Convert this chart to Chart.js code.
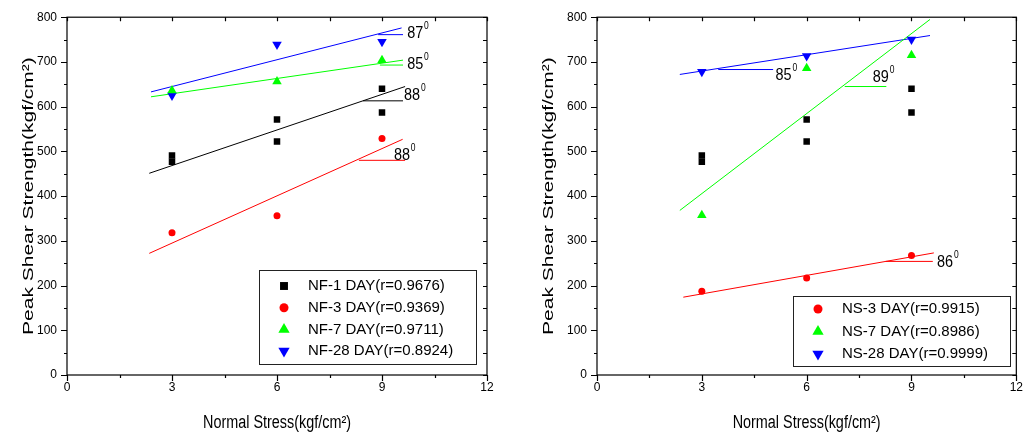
<!DOCTYPE html>
<html>
<head>
<meta charset="utf-8">
<script src="https://cdn.jsdelivr.net/npm/chart.js@4.4.1/dist/chart.umd.min.js"></script>
<style>
  html, body { margin: 0; padding: 0; background: #fff; }
  #wrap { position: relative; width: 1028px; height: 437px; }
  .panel { position: absolute; top: 0; width: 514px; height: 437px; }
</style>
</head>
<body>
<div id="wrap">
  <div class="panel" style="left:0"><canvas id="leftChart"></canvas></div>
  <div class="panel" style="left:514px"><canvas id="rightChart"></canvas></div>
</div>
<script>
// Normal stress levels (kgf/cm2)
const stress = [3, 6, 9];
const stressPairs = [3, 3, 6, 6, 9, 9];

// Peak shear strength (kgf/cm2)
const day1Peak = [491, 477, 571, 522, 640, 587];
const nf3Peak = [318, 356, 529];
const nf7Peak = [636, 656, 704];
const nf28Peak = [625, 739, 745];
const ns3Peak = [187, 217, 267];
const ns7Peak = [357, 686, 715];
const ns28Peak = [678, 713, 750];

// Fitted lines, end points [stress, strength]
const nf1Fit = [[2.35, 451], [9.66, 645]];
const nf3Fit = [[2.35, 272], [9.59, 527]];
const nf7Fit = [[2.4, 622], [9.6, 704]];
const nf28Fit = [[2.4, 633], [9.56, 776]];
const ns3Fit = [[2.47, 174], [9.64, 273]];
const ns7Fit = [[2.37, 368], [9.53, 795]];
const ns28Fit = [[2.37, 672], [9.53, 759]];

// Friction angle marks: [x from, x to, y level, label x, label y, text]
const nfAngles = [
  [8.89, 9.6, 761, 9.72, 753, '87', 'blue'],
  [8.94, 9.6, 693, 9.72, 685, '85', 'green'],
  [8.46, 9.6, 613, 9.63, 614, '88', 'black'],
  [8.34, 9.66, 480, 9.34, 481, '88', 'red']
];
const nsAngles = [
  [3.47, 5.04, 683, 5.11, 660, '85', 'blue'],
  [7.09, 8.28, 645, 7.89, 654, '89', 'green'],
  [8.26, 9.61, 254, 9.73, 242, '86', 'red']
];

const xMax = 12, xStep = 3, xMinor = 1.5;
const yMax = 800, yStep = 100, yMinor = 50;

const COLORS = { black: '#000000', red: '#ff0000', green: '#00ff00', blue: '#0000ff' };
const FONT = "'Liberation Sans', Arial, sans-serif";

Chart.defaults.font.family = FONT;
Chart.defaults.color = '#000';

function pts(xs, ys) {
  return ys.map((v, i) => ({ x: xs[i], y: v }));
}

function marks(label, xs, ys, color, style, radius, rotation) {
  return {
    label: label, data: pts(xs, ys), showLine: false,
    pointStyle: style, pointRadius: radius, pointRotation: rotation || 0,
    pointBackgroundColor: color, pointBorderWidth: 0, backgroundColor: color
  };
}

function fit(line, color) {
  return {
    label: '', data: line.map(p => ({ x: p[0], y: p[1] })), showLine: true,
    borderColor: color, borderWidth: 1, pointRadius: 0, fill: false
  };
}

const decor = {
  id: 'decor',
  afterDatasetsDraw(chart, args, o) {
    const { ctx, chartArea: a, scales: { x, y } } = chart;
    ctx.save();

    // frame and ticks
    ctx.strokeStyle = '#000';
    ctx.lineWidth = 1.2;
    ctx.strokeRect(a.left, a.top, a.right - a.left, a.bottom - a.top);
    ctx.beginPath();
    for (let v = 0; v <= yMax; v += yMinor) {
      const py = Math.round(y.getPixelForValue(v)) + 0.5;
      const len = v % yStep === 0 ? 6 : 3;
      ctx.moveTo(a.left - len, py); ctx.lineTo(a.left, py);
      ctx.moveTo(a.right, py); ctx.lineTo(a.right - 4, py);
    }
    for (let v = 0; v <= xMax; v += xMinor) {
      const px = Math.round(x.getPixelForValue(v)) + 0.5;
      const len = v % xStep === 0 ? 6 : 3;
      ctx.moveTo(px, a.bottom); ctx.lineTo(px, a.bottom + len);
      ctx.moveTo(px, a.top); ctx.lineTo(px, a.top + 4);
    }
    ctx.stroke();

    // angle marks
    o.angles.forEach(m => {
      const c = COLORS[m[6]];
      const yy = y.getPixelForValue(m[2]);
      ctx.strokeStyle = c;
      ctx.lineWidth = 1;
      ctx.beginPath();
      ctx.moveTo(x.getPixelForValue(m[0]), yy);
      ctx.lineTo(x.getPixelForValue(m[1]), yy);
      ctx.stroke();
      const lx = x.getPixelForValue(m[3]);
      const ly = y.getPixelForValue(m[4]);
      ctx.fillStyle = '#000';
      ctx.textBaseline = 'alphabetic';
      ctx.textAlign = 'left';
      ctx.save();
      ctx.translate(lx, ly);
      ctx.scale(0.85, 1);
      ctx.font = '17px ' + FONT;
      ctx.fillText(m[5], 0, 0);
      const w = ctx.measureText(m[5]).width;
      ctx.font = '10px ' + FONT;
      ctx.fillText('0', w + 1, -9);
      ctx.restore();
    });

    // legend
    const L = o.legend;
    ctx.strokeStyle = '#222';
    ctx.lineWidth = 1;
    ctx.strokeRect(L.x + 0.5, L.y + 0.5, L.w, L.h);
    ctx.font = '15px ' + FONT;
    ctx.textBaseline = 'middle';
    L.items.forEach((idx, i) => {
      const ds = chart.data.datasets[idx];
      const cy = L.y + L.first + i * L.gap;
      ctx.fillStyle = ds.pointBackgroundColor;
      Chart.helpers.drawPoint(ctx, {
        pointStyle: ds.pointStyle, radius: ds.pointRadius + 1,
        rotation: ds.pointRotation, borderWidth: 0
      }, L.x + L.sym, cy);
      ctx.fillStyle = '#000';
      ctx.fillText(ds.label, L.x + L.text, cy);
    });

    // axis titles
    ctx.fillStyle = '#000';
    ctx.textAlign = 'center';
    ctx.textBaseline = 'middle';
    ctx.save();
    ctx.translate((a.left + a.right) / 2, o.xTitleY);
    ctx.scale(0.8, 1);
    ctx.font = '18px ' + FONT;
    ctx.fillText('Normal Stress(kgf/cm\u00b2)', 0, 0);
    ctx.restore();
    ctx.save();
    ctx.translate(o.yTitleX, (a.top + a.bottom) / 2);
    ctx.rotate(-Math.PI / 2);
    ctx.scale(1, 0.74);
    ctx.font = '21px ' + FONT;
    ctx.fillText('Peak Shear Strength(kgf/cm\u00b2)', 0, 0);
    ctx.restore();

    ctx.restore();
  }
};

function makeChart(id, datasets, padLeft, padRight, decorOpts) {
  return new Chart(document.getElementById(id), {
    type: 'scatter',
    data: { datasets: datasets },
    plugins: [decor],
    options: {
      responsive: true,
      maintainAspectRatio: false,
      animation: false,
      layout: { padding: { left: padLeft, right: padRight, top: 14, bottom: 0 } },
      plugins: {
        legend: { display: false },
        tooltip: { enabled: false },
        decor: decorOpts
      },
      scales: {
        x: {
          type: 'linear', min: 0, max: xMax,
          ticks: { stepSize: xStep, padding: 5, font: { size: 12 }, color: '#000', maxRotation: 0 },
          grid: { display: false, drawTicks: false },
          border: { display: false },
          afterFit: s => { s.height = 62; }
        },
        y: {
          type: 'linear', min: 0, max: yMax,
          ticks: { stepSize: yStep, padding: 10, font: { size: 12 }, color: '#000' },
          grid: { display: false, drawTicks: false },
          border: { display: false },
          afterFit: s => { s.width = 67; }
        }
      }
    }
  });
}

makeChart('leftChart', [
  marks('NF-1 DAY(r=0.9676)', stressPairs, day1Peak, COLORS.black, 'rect', 4.6),
  marks('NF-3 DAY(r=0.9369)', stress, nf3Peak, COLORS.red, 'circle', 3.5),
  marks('NF-7 DAY(r=0.9711)', stress, nf7Peak, COLORS.green, 'triangle', 5.5),
  marks('NF-28 DAY(r=0.8924)', stress, nf28Peak, COLORS.blue, 'triangle', 5.5, 180),
  fit(nf1Fit, COLORS.black),
  fit(nf3Fit, COLORS.red),
  fit(nf7Fit, COLORS.green),
  fit(nf28Fit, COLORS.blue)
], 0, 27, {
  angles: nfAngles,
  legend: { x: 259, y: 270, w: 217, h: 94, first: 16, gap: 21.7, sym: 25, text: 49, items: [0, 1, 2, 3] },
  xTitleY: 423,
  yTitleX: 29
});

makeChart('rightChart', [
  marks('', stressPairs, day1Peak, COLORS.black, 'rect', 4.6),
  marks('NS-3 DAY(r=0.9915)', stress, ns3Peak, COLORS.red, 'circle', 3.5),
  marks('NS-7 DAY(r=0.8986)', stress, ns7Peak, COLORS.green, 'triangle', 5.5),
  marks('NS-28 DAY(r=0.9999)', stress, ns28Peak, COLORS.blue, 'triangle', 5.5, 180),
  fit(ns3Fit, COLORS.red),
  fit(ns7Fit, COLORS.green),
  fit(ns28Fit, COLORS.blue)
], 16, 11, {
  angles: nsAngles,
  legend: { x: 279, y: 296, w: 217, h: 70, first: 13, gap: 22.5, sym: 25, text: 49, items: [1, 2, 3] },
  xTitleY: 423,
  yTitleX: 35
});
</script>
</body>
</html>
